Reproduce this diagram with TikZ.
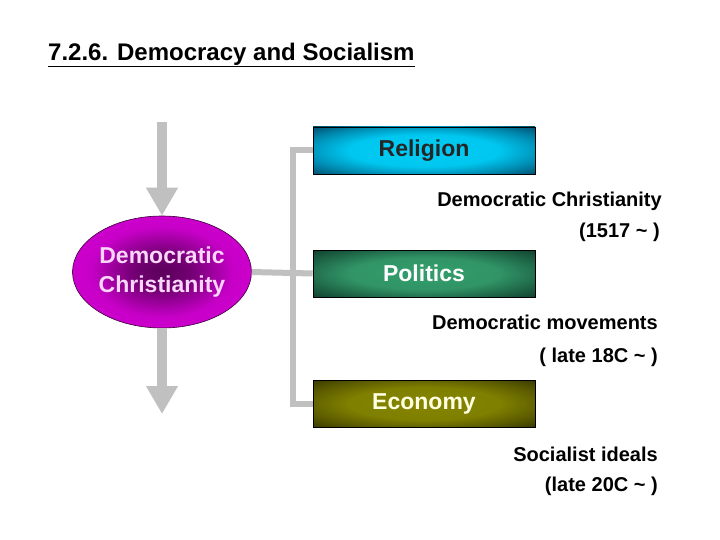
\documentclass[tikz,border=0pt]{standalone}
\usepackage{fontspec}
\setmainfont{Liberation Sans}
\usetikzlibrary{shapes.geometric,arrows.meta}
\definecolor{conn}{RGB}{192,192,192}
\definecolor{magB}{RGB}{96,0,96}
\definecolor{pinkT}{RGB}{250,215,250}
\definecolor{creamT}{RGB}{255,255,225}
\pgfdeclareradialshading{relshade}{\pgfpoint{0bp}{0bp}}{rgb(0bp)=(0,0.80,0.96); rgb(17bp)=(0,0.78,0.94); rgb(27bp)=(0,0.55,0.70); rgb(36bp)=(0,0.30,0.42); rgb(50bp)=(0,0.30,0.42)}
\pgfdeclareradialshading{polshade}{\pgfpoint{0bp}{0bp}}{rgb(0bp)=(0.20,0.62,0.42); rgb(17bp)=(0.19,0.58,0.40); rgb(27bp)=(0.12,0.40,0.28); rgb(36bp)=(0.06,0.25,0.18); rgb(50bp)=(0.06,0.25,0.18)}
\pgfdeclareradialshading{ecoshade}{\pgfpoint{0bp}{0bp}}{rgb(0bp)=(0.52,0.52,0); rgb(17bp)=(0.50,0.50,0); rgb(27bp)=(0.36,0.36,0); rgb(36bp)=(0.22,0.22,0); rgb(50bp)=(0.22,0.22,0)}
\pgfdeclareradialshading{magshade}{\pgfpoint{0bp}{0bp}}{rgb(0bp)=(0.36,0,0.36); rgb(8bp)=(0.45,0,0.45); rgb(20bp)=(0.78,0,0.78); rgb(30bp)=(0.82,0,0.82); rgb(50bp)=(0.82,0,0.82)}
\tikzset{
  conline/.style={draw=conn,line width=6pt,line join=miter},
  bigarrow/.style={draw=conn,line width=10pt,-{Triangle[length=28pt,width=30pt]},color=conn},
  catbox/.style={rectangle,draw=black,line width=0.6pt,minimum width=222pt,minimum height=47pt,
     inner sep=0pt,font=\fontsize{23}{27}\selectfont\bfseries},
  note/.style={anchor=east,inner sep=0pt,font=\fontsize{20}{24}\selectfont\bfseries}
}
\begin{document}
\begin{tikzpicture}[x=1pt,y=-1pt]
\useasboundingbox (0,0) rectangle (720,540);
\fill[white] (0,0) rectangle (720,540);
% title
\node[anchor=west,inner sep=0pt,font=\fontsize{24}{28}\selectfont\bfseries] (title) at (48,55) {\underline{7.2.6. Democracy and Socialism}};
% ellipse
\node[ellipse,draw=magB!60!black,line width=0.6pt,minimum width=160pt,minimum height=112pt,inner sep=0pt,
  shading=magshade,text=pinkT,align=center,
  font=\fontsize{23}{29}\selectfont\bfseries] (ell) at (162,272) {Democratic\\Christianity};
% boxes
\node[catbox,shading=relshade,text=black!85] (rel) at (424,150.5) {Religion};
\node[catbox,shading=polshade,text=white] (pol) at (424,273.5) {Politics};
\node[catbox,shading=ecoshade,text=creamT] (eco) at (424,403.5) {Economy};
% connectors
\draw[conline] (ell.east) -- (pol.west);
\draw[conline] (rel.west) -- ++(-20,0) |- (eco.west);
% arrows
\coordinate (topstart) at (162,122);
\coordinate (botend) at (162,414);
\draw[bigarrow] (topstart) -- (ell.north);
\draw[bigarrow] (ell.south) -- (botend);
% notes
\node[note] (n1a) at (662,201) {Democratic Christianity};
\node[note] (n1b) at (660,232) {(1517 \textasciitilde{} )};
\node[note] (n2a) at (658,322) {Democratic movements};
\node[note] (n2b) at (658,357) {( late 18C \textasciitilde{} )};
\node[note] (n3a) at (658,454) {Socialist ideals};
\node[note] (n3b) at (658,486) {(late 20C \textasciitilde{} )};
\end{tikzpicture}
\end{document}
